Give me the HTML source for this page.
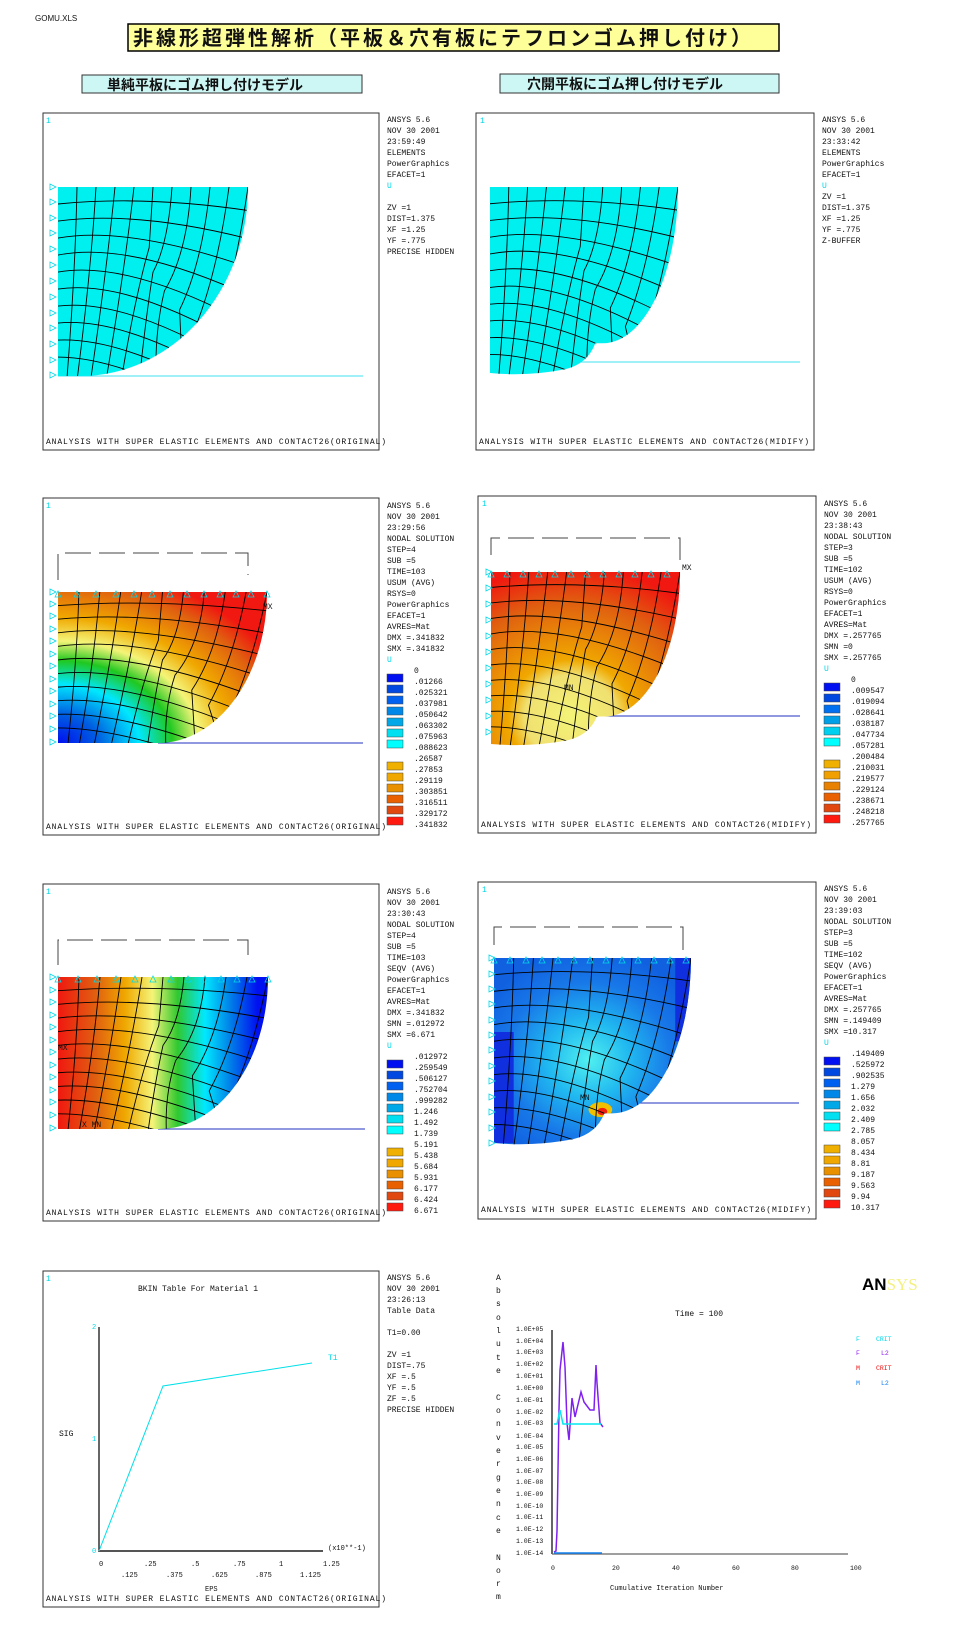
<!DOCTYPE html>
<html><head><meta charset="utf-8"><style>
html,body{margin:0;padding:0;background:#fff}
svg text{font-family:"Liberation Mono",monospace;font-size:8px;fill:#111}
.jp{font-family:"Liberation Sans","Noto Sans CJK JP",sans-serif;font-weight:bold}
</style></head><body>
<svg width="959" height="1626" viewBox="0 0 959 1626" xmlns="http://www.w3.org/2000/svg">
<defs>
<clipPath id="cQ"><path d="M0,0H100A88,100 0 0 1 12,100H0Z"/></clipPath>
<clipPath id="cD"><path d="M0,0H100A52,100 0 0 1 48,100H0Z"/></clipPath>
<clipPath id="cH"><path d="M0,0H100A40,84 0 0 1 60,84L56,84Q52,95 40,98Q20,102 0,100Z"/></clipPath>
<g id="mesh" fill="none" stroke="#000" stroke-width="0.9">
<path vector-effect="non-scaling-stroke" d="M0,9Q50,4 110,14M0,18Q45,12 110,30M0,27Q40,20 110,46M0,36Q40,28 110,62M0,45Q40,38 110,78M0,54Q40,48 110,92M0,63Q40,58 110,104M0,72Q40,68 110,114M0,81Q40,79 110,124M0,90Q40,90 110,134"/>
<path vector-effect="non-scaling-stroke" d="M10,0Q9,50 4,110M20,0Q17,50 9,110M30,0Q25,50 16,110M40,0Q35,45 24,110M50,0L48,32Q40,60 32,110M60,0Q58,30 50,45Q46,70 42,110M70,0Q68,35 56,55Q50,80 52,110M80,0Q76,40 64,65L66,110M90,0Q84,45 72,75L80,110M100,0Q92,55 80,85L95,110"/>
</g>
<g id="tri" fill="none" stroke="#00d8e8" stroke-width="0.8"><path d="M-5,-3L1,0L-5,3Z"/></g>
<g id="tru" fill="none" stroke="#00d8e8" stroke-width="0.8"><path d="M-3,5L0,-1L3,5Z"/></g>
<radialGradient id="g2l" gradientUnits="userSpaceOnUse" cx="0" cy="100" r="130">
<stop offset="0" stop-color="#0010f0"/><stop offset=".15" stop-color="#0060e0"/><stop offset=".3" stop-color="#00e8ff"/><stop offset=".42" stop-color="#20c820"/><stop offset=".52" stop-color="#f4f478"/><stop offset=".64" stop-color="#f0a800"/><stop offset=".8" stop-color="#e06010"/><stop offset=".9" stop-color="#f01810"/></radialGradient>
<radialGradient id="g2r" gradientUnits="userSpaceOnUse" cx="42" cy="84" r="110">
<stop offset="0" stop-color="#f4f478"/><stop offset=".22" stop-color="#f0e070"/><stop offset=".3" stop-color="#f0a800"/><stop offset=".6" stop-color="#e06010"/><stop offset=".8" stop-color="#f01810"/></radialGradient>
<linearGradient id="g3l" gradientUnits="userSpaceOnUse" x1="0" y1="0" x2="100" y2="0">
<stop offset="0" stop-color="#f01810"/><stop offset=".18" stop-color="#e06010"/><stop offset=".32" stop-color="#f0a800"/><stop offset=".45" stop-color="#f4f478"/><stop offset=".57" stop-color="#30c830"/><stop offset=".7" stop-color="#00e8ff"/><stop offset=".82" stop-color="#0080e8"/><stop offset=".95" stop-color="#0010f0"/></linearGradient>
<radialGradient id="g3r" gradientUnits="userSpaceOnUse" cx="48" cy="55" r="60">
<stop offset="0" stop-color="#50f0f0"/><stop offset=".35" stop-color="#20b8f0"/><stop offset=".7" stop-color="#1878e8"/><stop offset="1" stop-color="#1060e0"/></radialGradient>
</defs>

<text x="35" y="21" style="font-family:'Liberation Sans',sans-serif;font-size:8px">GOMU.XLS</text>
<rect x="128" y="24" width="651" height="27" fill="#ffff99" stroke="#000" stroke-width="1.5"/>
<text class="jp" x="133" y="45" style="font-size:20px" textLength="618">非線形超弾性解析（平板＆穴有板にテフロンゴム押し付け）</text>
<rect x="82" y="75" width="280" height="18" fill="#ccf7f4" stroke="#333"/>
<text class="jp" x="107" y="90" style="font-size:14px">単純平板にゴム押し付けモデル</text>
<rect x="500" y="74" width="279" height="19" fill="#ccf7f4" stroke="#333"/>
<text class="jp" x="527" y="89" style="font-size:14px">穴開平板にゴム押し付けモデル</text>

<g fill="none" stroke="#333" stroke-width="1">
<rect x="43" y="113" width="336" height="337"/><rect x="476" y="113" width="338" height="337"/>
<rect x="43" y="498" width="336" height="337"/><rect x="478" y="496" width="338" height="337"/>
<rect x="43" y="884" width="336" height="337"/><rect x="478" y="882" width="338" height="337"/>
<rect x="43" y="1271" width="336" height="336"/>
</g>
<g><text x="46" y="123" style="fill:#00d8e8">1</text><text x="480" y="123" style="fill:#00d8e8">1</text><text x="46" y="508" style="fill:#00d8e8">1</text><text x="482" y="506" style="fill:#00d8e8">1</text><text x="46" y="894" style="fill:#00d8e8">1</text><text x="482" y="892" style="fill:#00d8e8">1</text><text x="46" y="1281" style="fill:#00d8e8">1</text></g>

<line x1="58" y1="376" x2="363" y2="376" stroke="#40e0f0"/>
<g transform="translate(58,187) scale(1.9,1.89)"><g clip-path="url(#cQ)"><rect width="110" height="110" fill="#00f0f0"/><use href="#mesh"/></g></g>
<line x1="520" y1="362" x2="800" y2="362" stroke="#40e0f0"/>
<g transform="translate(490,187) scale(1.88,1.86)"><g clip-path="url(#cH)"><rect width="110" height="110" fill="#00f0f0"/><use href="#mesh"/></g></g>
<path d="M58,580V553H248V575" fill="none" stroke="#444" stroke-dasharray="26,8"/>
<line x1="158" y1="743" x2="363" y2="743" stroke="#2030c0"/>
<g transform="translate(58,592) scale(2.09,1.51)"><g clip-path="url(#cD)"><rect width="110" height="110" fill="url(#g2l)"/><use href="#mesh"/></g></g>
<path d="M491,555V538H680V560" fill="none" stroke="#444" stroke-dasharray="26,8"/>
<line x1="600" y1="716" x2="800" y2="716" stroke="#2030c0"/>
<g transform="translate(491,572) scale(1.89,1.72)"><g clip-path="url(#cH)"><rect width="110" height="110" fill="url(#g2r)"/><use href="#mesh"/></g></g>
<path d="M58,965V940H248V962" fill="none" stroke="#444" stroke-dasharray="26,8"/>
<line x1="158" y1="1129" x2="365" y2="1129" stroke="#2030c0"/>
<g transform="translate(58,977) scale(2.1,1.52)"><g clip-path="url(#cD)"><rect width="110" height="110" fill="url(#g3l)"/><use href="#mesh"/></g></g>
<path d="M494,945V927H683V950" fill="none" stroke="#444" stroke-dasharray="26,8"/>
<line x1="600" y1="1103" x2="799" y2="1103" stroke="#2030c0"/>
<g transform="translate(494,958) scale(1.97,1.85)"><g clip-path="url(#cH)"><rect width="110" height="110" fill="url(#g3r)"/><rect x="0" y="40" width="10" height="60" fill="#1030e0"/><rect x="92" y="0" width="12" height="45" fill="#1030e0"/><ellipse cx="54" cy="82" rx="6" ry="4" fill="#f0c000"/><ellipse cx="55" cy="83" rx="2.5" ry="2" fill="#f02010"/><use href="#mesh"/></g></g>

<g>
<use href="#tri" x="55" y="187"/><use href="#tri" x="55" y="202"/><use href="#tri" x="55" y="218"/><use href="#tri" x="55" y="233"/><use href="#tri" x="55" y="249"/><use href="#tri" x="55" y="265"/><use href="#tri" x="55" y="281"/><use href="#tri" x="55" y="297"/><use href="#tri" x="55" y="313"/><use href="#tri" x="55" y="328"/><use href="#tri" x="55" y="344"/><use href="#tri" x="55" y="360"/><use href="#tri" x="55" y="375"/>
<use href="#tri" x="55" y="592"/><use href="#tri" x="55" y="604"/><use href="#tri" x="55" y="616"/><use href="#tri" x="55" y="629"/><use href="#tri" x="55" y="641"/><use href="#tri" x="55" y="654"/><use href="#tri" x="55" y="666"/><use href="#tri" x="55" y="679"/><use href="#tri" x="55" y="691"/><use href="#tri" x="55" y="704"/><use href="#tri" x="55" y="716"/><use href="#tri" x="55" y="729"/><use href="#tri" x="55" y="742"/>
<use href="#tri" x="55" y="977"/><use href="#tri" x="55" y="990"/><use href="#tri" x="55" y="1002"/><use href="#tri" x="55" y="1015"/><use href="#tri" x="55" y="1027"/><use href="#tri" x="55" y="1040"/><use href="#tri" x="55" y="1052"/><use href="#tri" x="55" y="1065"/><use href="#tri" x="55" y="1077"/><use href="#tri" x="55" y="1090"/><use href="#tri" x="55" y="1102"/><use href="#tri" x="55" y="1115"/><use href="#tri" x="55" y="1128"/>
<use href="#tri" x="491" y="572"/><use href="#tri" x="491" y="588"/><use href="#tri" x="491" y="604"/><use href="#tri" x="491" y="620"/><use href="#tri" x="491" y="636"/><use href="#tri" x="491" y="652"/><use href="#tri" x="491" y="668"/><use href="#tri" x="491" y="684"/><use href="#tri" x="491" y="700"/><use href="#tri" x="491" y="716"/><use href="#tri" x="491" y="732"/>
<use href="#tri" x="494" y="958"/><use href="#tri" x="494" y="974"/><use href="#tri" x="494" y="989"/><use href="#tri" x="494" y="1004"/><use href="#tri" x="494" y="1020"/><use href="#tri" x="494" y="1035"/><use href="#tri" x="494" y="1050"/><use href="#tri" x="494" y="1066"/><use href="#tri" x="494" y="1081"/><use href="#tri" x="494" y="1097"/><use href="#tri" x="494" y="1112"/><use href="#tri" x="494" y="1128"/><use href="#tri" x="494" y="1143"/>
<use href="#tru" x="58" y="592"/><use href="#tru" x="77" y="592"/><use href="#tru" x="96" y="592"/><use href="#tru" x="116" y="592"/><use href="#tru" x="134" y="592"/><use href="#tru" x="152" y="592"/><use href="#tru" x="170" y="592"/><use href="#tru" x="187" y="592"/><use href="#tru" x="204" y="592"/><use href="#tru" x="220" y="592"/><use href="#tru" x="236" y="592"/><use href="#tru" x="251" y="592"/><use href="#tru" x="267" y="592"/>
<use href="#tru" x="58" y="977"/><use href="#tru" x="78" y="977"/><use href="#tru" x="97" y="977"/><use href="#tru" x="116" y="977"/><use href="#tru" x="135" y="977"/><use href="#tru" x="153" y="977"/><use href="#tru" x="171" y="977"/><use href="#tru" x="188" y="977"/><use href="#tru" x="205" y="977"/><use href="#tru" x="221" y="977"/><use href="#tru" x="237" y="977"/><use href="#tru" x="252" y="977"/><use href="#tru" x="268" y="977"/>
<use href="#tru" x="494" y="958"/><use href="#tru" x="510" y="958"/><use href="#tru" x="526" y="958"/><use href="#tru" x="542" y="958"/><use href="#tru" x="558" y="958"/><use href="#tru" x="574" y="958"/><use href="#tru" x="590" y="958"/><use href="#tru" x="606" y="958"/><use href="#tru" x="622" y="958"/><use href="#tru" x="638" y="958"/><use href="#tru" x="654" y="958"/><use href="#tru" x="670" y="958"/><use href="#tru" x="686" y="958"/>
<use href="#tru" x="491" y="572"/><use href="#tru" x="507" y="572"/><use href="#tru" x="523" y="572"/><use href="#tru" x="539" y="572"/><use href="#tru" x="555" y="572"/><use href="#tru" x="571" y="572"/><use href="#tru" x="587" y="572"/><use href="#tru" x="603" y="572"/><use href="#tru" x="619" y="572"/><use href="#tru" x="635" y="572"/><use href="#tru" x="651" y="572"/><use href="#tru" x="667" y="572"/>
</g>
<text x="263" y="609">MX</text><text x="682" y="570">MX</text><text x="564" y="690">MN</text><text x="82" y="1127">X MN</text><text x="58" y="1050">MX</text><text x="580" y="1100">MN</text>

<g>
<text x="387" y="122">ANSYS 5.6</text><text x="387" y="133">NOV 30 2001</text><text x="387" y="144">23:59:49</text><text x="387" y="155">ELEMENTS</text><text x="387" y="166">PowerGraphics</text><text x="387" y="177">EFACET=1</text><text x="387" y="188" style="fill:#00d8e8">U</text><text x="387" y="210">ZV   =1</text><text x="387" y="221">DIST=1.375</text><text x="387" y="232">XF   =1.25</text><text x="387" y="243">YF   =.775</text><text x="387" y="254">PRECISE HIDDEN</text>
<text x="822" y="122">ANSYS 5.6</text><text x="822" y="133">NOV 30 2001</text><text x="822" y="144">23:33:42</text><text x="822" y="155">ELEMENTS</text><text x="822" y="166">PowerGraphics</text><text x="822" y="177">EFACET=1</text><text x="822" y="188" style="fill:#00d8e8">U</text><text x="822" y="199">ZV   =1</text><text x="822" y="210">DIST=1.375</text><text x="822" y="221">XF   =1.25</text><text x="822" y="232">YF   =.775</text><text x="822" y="243">Z-BUFFER</text>

<text x="387" y="508">ANSYS 5.6</text><text x="387" y="519">NOV 30 2001</text><text x="387" y="530">23:29:56</text><text x="387" y="541">NODAL SOLUTION</text><text x="387" y="552">STEP=4</text><text x="387" y="563">SUB =5</text><text x="387" y="574">TIME=103</text><text x="387" y="585">USUM      (AVG)</text><text x="387" y="596">RSYS=0</text><text x="387" y="607">PowerGraphics</text><text x="387" y="618">EFACET=1</text><text x="387" y="629">AVRES=Mat</text><text x="387" y="640">DMX =.341832</text><text x="387" y="651">SMX =.341832</text><text x="387" y="662" style="fill:#00d8e8">U</text>
<text x="414" y="673">0</text><text x="414" y="684">.01266</text><text x="414" y="695">.025321</text><text x="414" y="706">.037981</text><text x="414" y="717">.050642</text><text x="414" y="728">.063302</text><text x="414" y="739">.075963</text><text x="414" y="750">.088623</text><text x="414" y="761">.26587</text><text x="414" y="772">.27853</text><text x="414" y="783">.29119</text><text x="414" y="794">.303851</text><text x="414" y="805">.316511</text><text x="414" y="816">.329172</text><text x="414" y="827">.341832</text>
<g stroke="#444" stroke-width=".5"><rect x="387" y="674" width="16" height="8" fill="#0010f0"/><rect x="387" y="685" width="16" height="8" fill="#0048e0"/><rect x="387" y="696" width="16" height="8" fill="#0060f0"/><rect x="387" y="707" width="16" height="8" fill="#0088e8"/><rect x="387" y="718" width="16" height="8" fill="#00a8e8"/><rect x="387" y="729" width="16" height="8" fill="#00e0f0"/><rect x="387" y="740" width="16" height="8" fill="#00ffff"/><rect x="387" y="762" width="16" height="8" fill="#f0b000"/><rect x="387" y="773" width="16" height="8" fill="#f0a800"/><rect x="387" y="784" width="16" height="8" fill="#e89000"/><rect x="387" y="795" width="16" height="8" fill="#e86000"/><rect x="387" y="806" width="16" height="8" fill="#e04810"/><rect x="387" y="817" width="16" height="8" fill="#ff1a10"/></g>

<text x="824" y="506">ANSYS 5.6</text><text x="824" y="517">NOV 30 2001</text><text x="824" y="528">23:38:43</text><text x="824" y="539">NODAL SOLUTION</text><text x="824" y="550">STEP=3</text><text x="824" y="561">SUB =5</text><text x="824" y="572">TIME=102</text><text x="824" y="583">USUM      (AVG)</text><text x="824" y="594">RSYS=0</text><text x="824" y="605">PowerGraphics</text><text x="824" y="616">EFACET=1</text><text x="824" y="627">AVRES=Mat</text><text x="824" y="638">DMX =.257765</text><text x="824" y="649">SMN =0</text><text x="824" y="660">SMX =.257765</text><text x="824" y="671" style="fill:#00d8e8">U</text>
<text x="851" y="682">0</text><text x="851" y="693">.009547</text><text x="851" y="704">.019094</text><text x="851" y="715">.028641</text><text x="851" y="726">.038187</text><text x="851" y="737">.047734</text><text x="851" y="748">.057281</text><text x="851" y="759">.200484</text><text x="851" y="770">.210031</text><text x="851" y="781">.219577</text><text x="851" y="792">.229124</text><text x="851" y="803">.238671</text><text x="851" y="814">.248218</text><text x="851" y="825">.257765</text>
<g stroke="#444" stroke-width=".5"><rect x="824" y="683" width="16" height="8" fill="#0010f0"/><rect x="824" y="694" width="16" height="8" fill="#0048e0"/><rect x="824" y="705" width="16" height="8" fill="#0070f0"/><rect x="824" y="716" width="16" height="8" fill="#00a0e8"/><rect x="824" y="727" width="16" height="8" fill="#00d0f0"/><rect x="824" y="738" width="16" height="8" fill="#00ffff"/><rect x="824" y="760" width="16" height="8" fill="#f0b000"/><rect x="824" y="771" width="16" height="8" fill="#f0a000"/><rect x="824" y="782" width="16" height="8" fill="#e88000"/><rect x="824" y="793" width="16" height="8" fill="#e86000"/><rect x="824" y="804" width="16" height="8" fill="#e04810"/><rect x="824" y="815" width="16" height="8" fill="#ff1a10"/></g>

<text x="387" y="894">ANSYS 5.6</text><text x="387" y="905">NOV 30 2001</text><text x="387" y="916">23:30:43</text><text x="387" y="927">NODAL SOLUTION</text><text x="387" y="938">STEP=4</text><text x="387" y="949">SUB =5</text><text x="387" y="960">TIME=103</text><text x="387" y="971">SEQV      (AVG)</text><text x="387" y="982">PowerGraphics</text><text x="387" y="993">EFACET=1</text><text x="387" y="1004">AVRES=Mat</text><text x="387" y="1015">DMX =.341832</text><text x="387" y="1026">SMN =.012972</text><text x="387" y="1037">SMX =6.671</text><text x="387" y="1048" style="fill:#00d8e8">U</text>
<text x="414" y="1059">.012972</text><text x="414" y="1070">.259549</text><text x="414" y="1081">.506127</text><text x="414" y="1092">.752704</text><text x="414" y="1103">.999282</text><text x="414" y="1114">1.246</text><text x="414" y="1125">1.492</text><text x="414" y="1136">1.739</text><text x="414" y="1147">5.191</text><text x="414" y="1158">5.438</text><text x="414" y="1169">5.684</text><text x="414" y="1180">5.931</text><text x="414" y="1191">6.177</text><text x="414" y="1202">6.424</text><text x="414" y="1213">6.671</text>
<g stroke="#444" stroke-width=".5"><rect x="387" y="1060" width="16" height="8" fill="#0010f0"/><rect x="387" y="1071" width="16" height="8" fill="#0048e0"/><rect x="387" y="1082" width="16" height="8" fill="#0060f0"/><rect x="387" y="1093" width="16" height="8" fill="#0088e8"/><rect x="387" y="1104" width="16" height="8" fill="#00a8e8"/><rect x="387" y="1115" width="16" height="8" fill="#00e0f0"/><rect x="387" y="1126" width="16" height="8" fill="#00ffff"/><rect x="387" y="1148" width="16" height="8" fill="#f0b000"/><rect x="387" y="1159" width="16" height="8" fill="#f0a800"/><rect x="387" y="1170" width="16" height="8" fill="#e89000"/><rect x="387" y="1181" width="16" height="8" fill="#e86000"/><rect x="387" y="1192" width="16" height="8" fill="#e04810"/><rect x="387" y="1203" width="16" height="8" fill="#ff1a10"/></g>

<text x="824" y="891">ANSYS 5.6</text><text x="824" y="902">NOV 30 2001</text><text x="824" y="913">23:39:03</text><text x="824" y="924">NODAL SOLUTION</text><text x="824" y="935">STEP=3</text><text x="824" y="946">SUB =5</text><text x="824" y="957">TIME=102</text><text x="824" y="968">SEQV      (AVG)</text><text x="824" y="979">PowerGraphics</text><text x="824" y="990">EFACET=1</text><text x="824" y="1001">AVRES=Mat</text><text x="824" y="1012">DMX =.257765</text><text x="824" y="1023">SMN =.149409</text><text x="824" y="1034">SMX =10.317</text><text x="824" y="1045" style="fill:#00d8e8">U</text>
<text x="851" y="1056">.149409</text><text x="851" y="1067">.525972</text><text x="851" y="1078">.902535</text><text x="851" y="1089">1.279</text><text x="851" y="1100">1.656</text><text x="851" y="1111">2.032</text><text x="851" y="1122">2.409</text><text x="851" y="1133">2.785</text><text x="851" y="1144">8.057</text><text x="851" y="1155">8.434</text><text x="851" y="1166">8.81</text><text x="851" y="1177">9.187</text><text x="851" y="1188">9.563</text><text x="851" y="1199">9.94</text><text x="851" y="1210">10.317</text>
<g stroke="#444" stroke-width=".5"><rect x="824" y="1057" width="16" height="8" fill="#0010f0"/><rect x="824" y="1068" width="16" height="8" fill="#0048e0"/><rect x="824" y="1079" width="16" height="8" fill="#0060f0"/><rect x="824" y="1090" width="16" height="8" fill="#0088e8"/><rect x="824" y="1101" width="16" height="8" fill="#00a8e8"/><rect x="824" y="1112" width="16" height="8" fill="#00e0f0"/><rect x="824" y="1123" width="16" height="8" fill="#00ffff"/><rect x="824" y="1145" width="16" height="8" fill="#f0b000"/><rect x="824" y="1156" width="16" height="8" fill="#f0a800"/><rect x="824" y="1167" width="16" height="8" fill="#e89000"/><rect x="824" y="1178" width="16" height="8" fill="#e86000"/><rect x="824" y="1189" width="16" height="8" fill="#e04810"/><rect x="824" y="1200" width="16" height="8" fill="#ff1a10"/></g>

<text x="387" y="1280">ANSYS 5.6</text><text x="387" y="1291">NOV 30 2001</text><text x="387" y="1302">23:26:13</text><text x="387" y="1313">Table Data</text><text x="387" y="1335">T1=0.00</text><text x="387" y="1357">ZV   =1</text><text x="387" y="1368">DIST=.75</text><text x="387" y="1379">XF   =.5</text><text x="387" y="1390">YF   =.5</text><text x="387" y="1401">ZF   =.5</text><text x="387" y="1412">PRECISE HIDDEN</text>
</g>

<g>
<text x="46" y="444" textLength="340">ANALYSIS WITH SUPER ELASTIC ELEMENTS AND CONTACT26(ORIGINAL)</text>
<text x="479" y="444" textLength="330">ANALYSIS WITH SUPER ELASTIC ELEMENTS AND CONTACT26(MIDIFY)</text>
<text x="46" y="829" textLength="340">ANALYSIS WITH SUPER ELASTIC ELEMENTS AND CONTACT26(ORIGINAL)</text>
<text x="481" y="827" textLength="330">ANALYSIS WITH SUPER ELASTIC ELEMENTS AND CONTACT26(MIDIFY)</text>
<text x="46" y="1215" textLength="340">ANALYSIS WITH SUPER ELASTIC ELEMENTS AND CONTACT26(ORIGINAL)</text>
<text x="481" y="1212" textLength="330">ANALYSIS WITH SUPER ELASTIC ELEMENTS AND CONTACT26(MIDIFY)</text>
<text x="46" y="1601" textLength="340">ANALYSIS WITH SUPER ELASTIC ELEMENTS AND CONTACT26(ORIGINAL)</text>
</g>

<text x="138" y="1291">BKIN Table For Material    1</text>
<line x1="99" y1="1327" x2="99" y2="1552" stroke="#000" stroke-width="1.2"/>
<line x1="99" y1="1551" x2="323" y2="1551" stroke="#555" stroke-width="2"/>
<polyline points="99,1551 163,1386 312,1363" fill="none" stroke="#00e0e8"/>
<text x="92" y="1329" style="fill:#00d8e8;font-size:7px">2</text><text x="92" y="1441" style="fill:#00d8e8;font-size:7px">1</text><text x="92" y="1553" style="fill:#00d8e8;font-size:7px">0</text><text x="328" y="1360" style="fill:#00d8e8">T1</text>
<text x="59" y="1436">SIG</text>
<g><text x="99" y="1566" style="font-size:7px">0</text><text x="144" y="1566" style="font-size:7px">.25</text><text x="191" y="1566" style="font-size:7px">.5</text><text x="233" y="1566" style="font-size:7px">.75</text><text x="279" y="1566" style="font-size:7px">1</text><text x="323" y="1566" style="font-size:7px">1.25</text>
<text x="121" y="1577" style="font-size:7px">.125</text><text x="166" y="1577" style="font-size:7px">.375</text><text x="211" y="1577" style="font-size:7px">.625</text><text x="255" y="1577" style="font-size:7px">.875</text><text x="300" y="1577" style="font-size:7px">1.125</text>
<text x="328" y="1550" style="font-size:7px">(x10**-1)</text><text x="205" y="1591" style="font-size:7px">EPS</text></g>

<g>
<text x="496" y="1280">A</text><text x="496" y="1293">b</text><text x="496" y="1306">s</text><text x="496" y="1320">o</text><text x="496" y="1333">l</text><text x="496" y="1346">u</text><text x="496" y="1360">t</text><text x="496" y="1373">e</text><text x="496" y="1400">C</text><text x="496" y="1413">o</text><text x="496" y="1426">n</text><text x="496" y="1440">v</text><text x="496" y="1453">e</text><text x="496" y="1466">r</text><text x="496" y="1480">g</text><text x="496" y="1493">e</text><text x="496" y="1506">n</text><text x="496" y="1520">c</text><text x="496" y="1533">e</text><text x="496" y="1560">N</text><text x="496" y="1573">o</text><text x="496" y="1586">r</text><text x="496" y="1599">m</text>
</g>
<text x="675" y="1316">Time = 100</text>
<text x="862" y="1290" style="font-family:'Liberation Sans',sans-serif;font-weight:bold;font-size:17px;fill:#000">AN<tspan style="fill:#f4f080;font-family:'Liberation Serif',serif;font-weight:normal">SYS</tspan></text>
<g>
<text x="516" y="1331" style="font-size:6.5px">1.0E+05</text><text x="516" y="1343" style="font-size:6.5px">1.0E+04</text><text x="516" y="1354" style="font-size:6.5px">1.0E+03</text><text x="516" y="1366" style="font-size:6.5px">1.0E+02</text><text x="516" y="1378" style="font-size:6.5px">1.0E+01</text><text x="516" y="1390" style="font-size:6.5px">1.0E+00</text><text x="516" y="1402" style="font-size:6.5px">1.0E-01</text><text x="516" y="1414" style="font-size:6.5px">1.0E-02</text><text x="516" y="1425" style="font-size:6.5px">1.0E-03</text><text x="516" y="1438" style="font-size:6.5px">1.0E-04</text><text x="516" y="1449" style="font-size:6.5px">1.0E-05</text><text x="516" y="1461" style="font-size:6.5px">1.0E-06</text><text x="516" y="1473" style="font-size:6.5px">1.0E-07</text><text x="516" y="1484" style="font-size:6.5px">1.0E-08</text><text x="516" y="1496" style="font-size:6.5px">1.0E-09</text><text x="516" y="1508" style="font-size:6.5px">1.0E-10</text><text x="516" y="1519" style="font-size:6.5px">1.0E-11</text><text x="516" y="1531" style="font-size:6.5px">1.0E-12</text><text x="516" y="1543" style="font-size:6.5px">1.0E-13</text><text x="516" y="1555" style="font-size:6.5px">1.0E-14</text>
<text x="551" y="1570" style="font-size:6.5px">0</text><text x="612" y="1570" style="font-size:6.5px">20</text><text x="672" y="1570" style="font-size:6.5px">40</text><text x="732" y="1570" style="font-size:6.5px">60</text><text x="791" y="1570" style="font-size:6.5px">80</text><text x="850" y="1570" style="font-size:6.5px">100</text>
<text x="856" y="1341" style="fill:#00d8e8;font-size:6.5px">F</text><text x="876" y="1341" style="fill:#00d8e8;font-size:6.5px">CRIT</text>
<text x="856" y="1355" style="fill:#9020f0;font-size:6.5px">F</text><text x="881" y="1355" style="fill:#9020f0;font-size:6.5px">L2</text>
<text x="856" y="1370" style="fill:#f01010;font-size:6.5px">M</text><text x="876" y="1370" style="fill:#f01010;font-size:6.5px">CRIT</text>
<text x="856" y="1385" style="fill:#1080f0;font-size:6.5px">M</text><text x="881" y="1385" style="fill:#1080f0;font-size:6.5px">L2</text>
</g>
<text x="610" y="1590" style="font-size:7px">Cumulative Iteration Number</text>
<line x1="552" y1="1330" x2="552" y2="1554" stroke="#000" stroke-width="1.2"/>
<line x1="552" y1="1554" x2="848" y2="1554" stroke="#666" stroke-width="1.2"/>
<polyline points="554,1552 556,1551 557,1531 559,1410 560,1370 563,1342 565,1367 567,1423 569,1440 572,1398 575,1417 581,1392 584,1402 590,1410 594,1410 596,1365 597,1383 600,1423 603,1427" fill="none" stroke="#8020f0" stroke-width="1.5"/>
<polyline points="554,1424 557,1424 560,1410 563,1424 601,1424" fill="none" stroke="#00e8f0" stroke-width="1.5"/>
<line x1="554" y1="1553" x2="602" y2="1553" stroke="#1080f0" stroke-width="1.5"/>
</svg>
</body></html>
